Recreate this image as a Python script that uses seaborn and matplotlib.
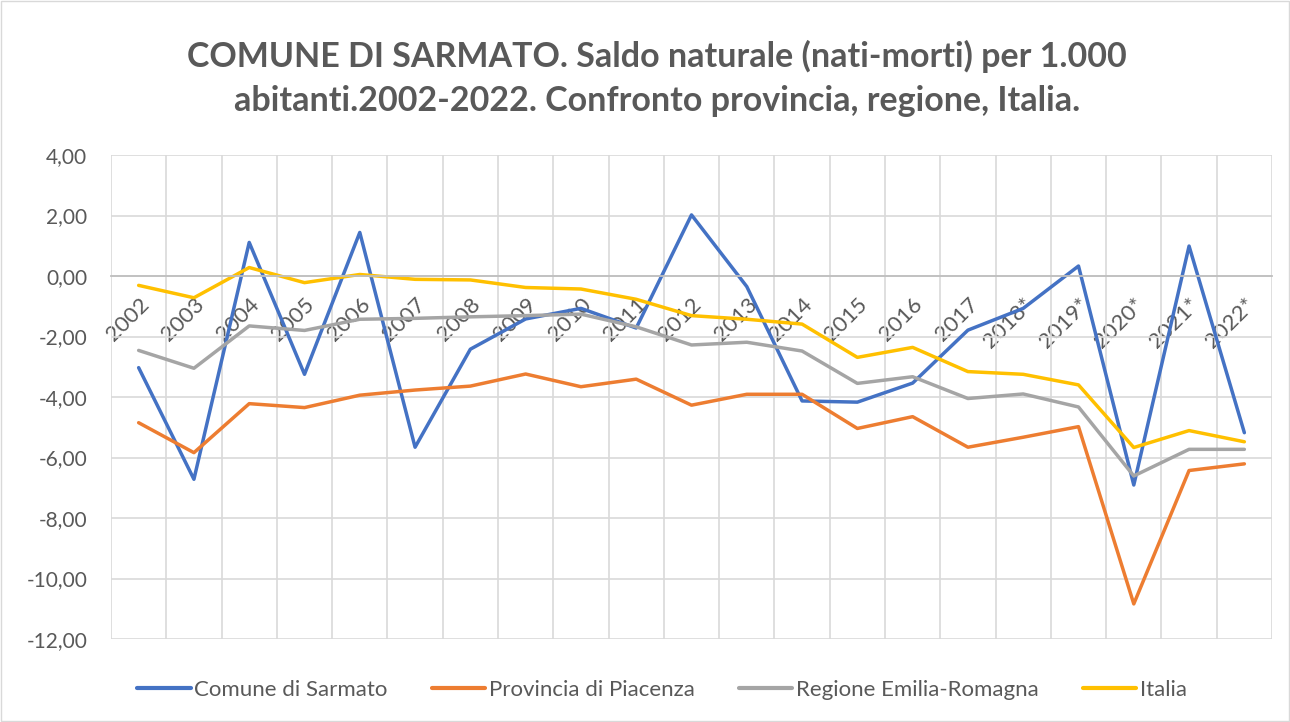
import pandas as pd
import matplotlib.pyplot as plt
from matplotlib.ticker import FixedLocator, FuncFormatter
import seaborn as sns

# Data
anni = ['2002', '2003', '2004', '2005', '2006', '2007', '2008', '2009', '2010', '2011',
        '2012', '2013', '2014', '2015', '2016', '2017', '2018*', '2019*', '2020*', '2021*', '2022*']
sarmato = [-3.03, -6.72, 1.11, -3.25, 1.44, -5.66, -2.42, -1.42, -1.07, -1.72,
           2.02, -0.35, -4.13, -4.17, -3.54, -1.79, -1.07, 0.33, -6.91, 0.99, -5.18]
piacenza = [-4.85, -5.84, -4.22, -4.35, -3.94, -3.77, -3.64, -3.24, -3.66, -3.41,
            -4.27, -3.91, -3.91, -5.04, -4.65, -5.66, -5.33, -4.98, -10.84, -6.43, -6.21]
emilia = [-2.46, -3.05, -1.65, -1.80, -1.43, -1.40, -1.35, -1.31, -1.26, -1.68,
          -2.28, -2.19, -2.48, -3.55, -3.33, -4.05, -3.90, -4.33, -6.61, -5.73, -5.73]
italia = [-0.31, -0.72, 0.28, -0.22, 0.05, -0.11, -0.13, -0.38, -0.43, -0.77,
          -1.31, -1.43, -1.59, -2.69, -2.36, -3.16, -3.25, -3.60, -5.67, -5.11, -5.48]

serie = ['Comune di Sarmato', 'Provincia di Piacenza', 'Regione Emilia-Romagna', 'Italia']
colori = ['#4472C4', '#ED7D31', '#A5A5A5', '#FFC000']

df = pd.DataFrame({'anno': anni, serie[0]: sarmato, serie[1]: piacenza,
                   serie[2]: emilia, serie[3]: italia})
df = df.melt(id_vars='anno', var_name='serie', value_name='saldo')

sns.set_style('white')
plt.rcParams['font.family'] = ['Lato', 'DejaVu Sans']
testo = '#595959'

fig = plt.figure(figsize=(12.9, 7.22), dpi=100)
ax = fig.add_axes([111 / 1290, 1 - 639 / 722, (1272 - 111) / 1290, (639 - 155) / 722])

sns.lineplot(data=df, x='anno', y='saldo', hue='serie', hue_order=serie,
             palette=colori, linewidth=2.5, ax=ax, sort=False)

ax.set_xlim(-0.5, len(anni) - 0.5)
ax.set_ylim(-12, 4)
ax.set_yticks(range(-12, 5, 2))
ax.yaxis.set_major_formatter(FuncFormatter(lambda v, p: f'{v:.2f}'.replace('.', ',')))
ax.xaxis.set_minor_locator(FixedLocator([i - 0.5 for i in range(len(anni) + 1)]))
ax.grid(True, which='minor', axis='x', color='#D9D9D9', linewidth=1.2)
ax.grid(True, which='major', axis='y', color='#D9D9D9', linewidth=1.2)
ax.set_axisbelow(True)

# category axis crosses at 0, like in Excel
for s in ['top', 'right', 'left']:
    ax.spines[s].set_visible(False)
ax.spines['bottom'].set_position(('data', 0))
ax.spines['bottom'].set_color('#BFBFBF')
ax.spines['bottom'].set_linewidth(1.3)

ax.tick_params(axis='x', which='both', length=0, pad=13, labelsize=16, labelcolor=testo)
ax.tick_params(axis='y', length=0, pad=17, labelsize=15, labelcolor=testo)
for lbl in ax.get_xticklabels():
    lbl.set_rotation(45)
    lbl.set_ha('right')
    lbl.set_va('top')
    lbl.set_rotation_mode('anchor')

ax.set_xlabel('')
ax.set_ylabel('')

fig.suptitle('COMUNE DI SARMATO. Saldo naturale (nati-morti) per 1.000\n'
             'abitanti.2002-2022. Confronto provincia, regione, Italia.',
             x=0.5 + 12 / 1290, y=1 - 40 / 722, va='top', fontsize=24.5, fontweight='bold',
             color=testo, linespacing=1.45)

ax.get_legend().remove()
handles, labels = ax.get_legend_handles_labels()
leg = fig.legend(handles, labels, loc='center', bbox_to_anchor=(662 / 1290, 1 - 690 / 722),
                 ncol=4, frameon=False, fontsize=16, handlelength=2.4,
                 handletextpad=0.15, columnspacing=2.0)
for t in leg.get_texts():
    t.set_color(testo)
for h in leg.legend_handles:
    h.set_linewidth(3)

fig.patches.append(plt.Rectangle((0.001, 0.001), 0.998, 0.998, transform=fig.transFigure,
                                 fill=False, edgecolor='#D9D9D9', linewidth=1))

fig.savefig('out.png', dpi=100)
